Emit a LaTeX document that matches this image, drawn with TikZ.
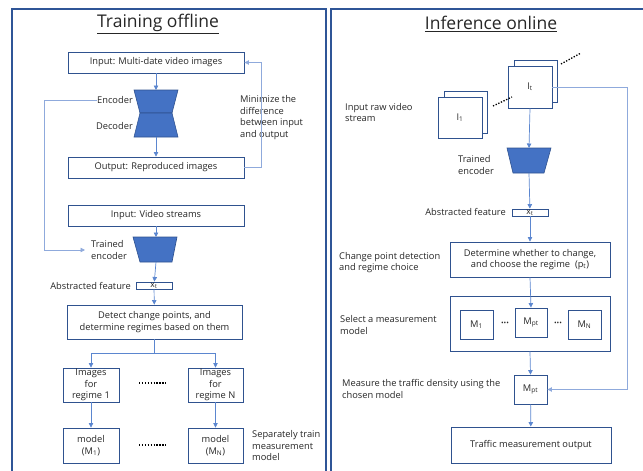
\documentclass[tikz,border=0pt]{standalone}
\usepackage{fontspec}
\setmainfont{Open Sans}
\usetikzlibrary{arrows.meta}
\definecolor{framec}{HTML}{2F5597}
\definecolor{boxc}{HTML}{2F528F}
\definecolor{linec}{HTML}{5B86CF}
\definecolor{lightc}{HTML}{8FAADC}
\definecolor{encf}{HTML}{4472C4}
\definecolor{txt}{HTML}{262626}
\begin{document}
\begin{tikzpicture}[x=1pt,y=-1pt,
  font=\fontsize{9.3}{11.5}\selectfont, text=txt,
  box/.style={draw=boxc, line width=0.9pt, fill=white, inner sep=0pt, align=center},
  framebox/.style={draw=boxc, line width=0.9pt, fill=white, inner sep=0pt},
  conn/.style={draw=linec, line width=0.7pt},
  arr/.style={conn, -{Triangle[length=4.5pt,width=4.5pt]}},
  larr/.style={draw=lightc, line width=0.8pt, -{Triangle[length=4.5pt,width=4.5pt]}},
  enc/.style={fill=encf, draw=boxc, line width=0.6pt},
  dotsty/.style={draw=black, line width=1.3pt, dash pattern=on 1.3pt off 1.6pt},
  lab/.style={align=left, inner sep=0pt},
  xtlab/.style={inner sep=0pt, font=\fontsize{8.5}{9}\selectfont}]
\useasboundingbox (0,0) rectangle (643,471);
\clip (0,0) rectangle (643,471);
% panels
\draw[framec, line width=1.2pt] (12,9) rectangle (326,490);
\draw[framec, line width=1.2pt] (331,9) rectangle (660,490);
% ===== Training offline =====
\node (t1) at (158,24) {\fontsize{17.5}{20}\selectfont\underline{Training offline}};
\node[box, minimum width=176, minimum height=21] (in1) at (156,62.5) {Input: Multi-date video images};
\filldraw[enc] (134,90) -- (178,90) -- (172,113) -- (140,113) -- cycle;
\filldraw[enc] (140,113) -- (172,113) -- (178,137) -- (134,137) -- cycle;
\coordinate (hgT) at (156,90);
\coordinate (hgB) at (156,137);
\node[anchor=east, inner sep=0pt] (enclab) at (133,100) {Encoder};
\node[anchor=east, inner sep=0pt] (declab) at (133,126) {Decoder};
\node[box, minimum width=176, minimum height=21] (out1) at (156,167.5) {Output: Reproduced images};
\node[lab, anchor=west] (minlab) at (240,117.5) {Minimize the\\difference\\between input\\and output};
\node[box, minimum width=176, minimum height=21] (vs) at (156,215.5) {Input: Video streams};
\filldraw[enc] (133,237) -- (177,237) -- (172,262) -- (140,262) -- cycle;
\coordinate (tenT) at (156,237);
\coordinate (tenB) at (156,262);
\node[lab, anchor=west] (tenlab) at (91,250) {Trained\\encoder};
\node[box, minimum width=36, minimum height=7] (xt1) at (154,285.5) {};
\node[anchor=east, inner sep=0pt] (abs1) at (131,285.5) {Abstracted feature};
\node[box, minimum width=175, minimum height=34] (det) at (154.5,322) {Detect change points, and\\determine regimes based on them};
\node[box, minimum width=56, minimum height=34] (im1) at (91,385) {Images\\for\\regime 1};
\node[box, minimum width=55, minimum height=34] (imN) at (215.5,385) {Images\\for\\regime N};
\node[box, minimum width=56, minimum height=35] (m1) at (91,445.5) {model\\(M\textsubscript{1})};
\node[box, minimum width=55, minimum height=35] (mN) at (215.5,445.5) {model\\(M\textsubscript{N})};
\coordinate (d1a) at (139,383); \coordinate (d1b) at (166,383);
\coordinate (d2a) at (139,445); \coordinate (d2b) at (166,445);
\draw[dotsty] (d1a) -- (d1b);
\draw[dotsty] (d2a) -- (d2b);
\node[lab, anchor=west] (seplab) at (252,446) {Separately train\\measurement\\model};
% connectors left
\draw[arr] (in1) -- (hgT);
\draw[arr] (hgB) -- (out1);
\draw[larr] (out1.east) -- ++(17,0) |- (in1.east);
\draw[larr, shorten >=6pt] (enclab.west) -- (44,100) |- (tenlab.west);
\draw[arr] (vs) -- (tenT);
\draw[arr] (tenB) -- (xt1);
\draw[arr] (xt1) -- (det);
\draw[conn] (det.south) -- ++(0,14) coordinate (br);
\draw[arr] (br) -| (im1.north);
\draw[arr] (br) -| (imN.north);
\draw[arr] (im1) -- (m1);
\draw[arr] (imN) -- (mN);
\node[xtlab, anchor=north] (xt1lab) at (154,282.3) {x\textsubscript{t}};
% ===== Inference online =====
\node (t2) at (491,24) {\fontsize{17.5}{20}\selectfont\underline{Inference online}};
\node[framebox, minimum width=43, minimum height=42] (i1b) at (465.5,112) {};
\node[framebox, minimum width=44, minimum height=41] (i1f) at (460,117.5) {I\textsubscript{1}};
\node[framebox, minimum width=43, minimum height=42] (itb) at (535.5,81) {};
\node[framebox, minimum width=44, minimum height=42] (itf) at (530,87) {I\textsubscript{t}};
\coordinate (da) at (493,106); \coordinate (db) at (512,97);
\coordinate (dc) at (561,64); \coordinate (dd) at (581,53);
\draw[dotsty] (da) -- (db);
\draw[dotsty] (dc) -- (dd);
\node[lab, anchor=west] (rawlab) at (345,112.5) {Input raw video\\stream};
\filldraw[enc] (507,148) -- (551,148) -- (544,173) -- (513,173) -- cycle;
\coordinate (ten2T) at (529,148);
\coordinate (ten2B) at (529,173);
\node[lab, anchor=west] (ten2lab) at (458,165) {Trained\\encoder};
\node[box, minimum width=36, minimum height=7] (xt2) at (530,212.5) {};
\node[anchor=east, inner sep=0pt] (abs2) at (506,212) {Abstracted feature};
\node[box, minimum width=160, minimum height=35] (det2) at (530,259.5) {Determine whether to change,\\and choose the regime~~(p\textsubscript{t})};
\node[lab, anchor=west] (cplab) at (339,262.5) {Change point detection\\and regime choice};
\node[box, minimum width=160, minimum height=55] (sel) at (530,323.5) {};
\node[box, minimum width=33, minimum height=29] (sm1) at (476.5,324.5) {M\textsubscript{1}};
\node[box, minimum width=32, minimum height=29] (smpt) at (531,322.5) {M\textsubscript{pt}};
\node[box, minimum width=33, minimum height=29] (smN) at (584.5,324.5) {M\textsubscript{N}};
\node[inner sep=0pt] (b1) at (505,324) {\fontsize{7}{7}\selectfont •••};
\node[inner sep=0pt] (b2) at (558,324) {\fontsize{7}{7}\selectfont •••};
\node[lab, anchor=west] (sellab) at (340,325) {Select a measurement\\model};
\node[box, minimum width=33, minimum height=29] (mpt2) at (530.5,389.5) {M\textsubscript{pt}};
\node[lab, anchor=west] (measlab) at (342,389) {Measure the traffic density using the\\chosen model};
\node[box, minimum width=160, minimum height=36] (out2) at (531,445) {Traffic measurement output};
% connectors right
\coordinate (fb) at (627,87);
\draw[larr] (itf.east) -- (fb) |- (mpt2.east);
\draw[arr] (itf.south) -- (ten2T);
\draw[arr] (ten2B) -- (xt2);
\draw[arr] (xt2) -- (det2);
\draw[arr] (det2.south) -- (smpt.north);
\draw[arr] (sel.south) -- (mpt2.north);
\draw[arr] (mpt2) -- (out2);
\node[xtlab, anchor=north] (xt2lab) at (530,209.3) {x\textsubscript{t}};
\end{tikzpicture}
\end{document}
